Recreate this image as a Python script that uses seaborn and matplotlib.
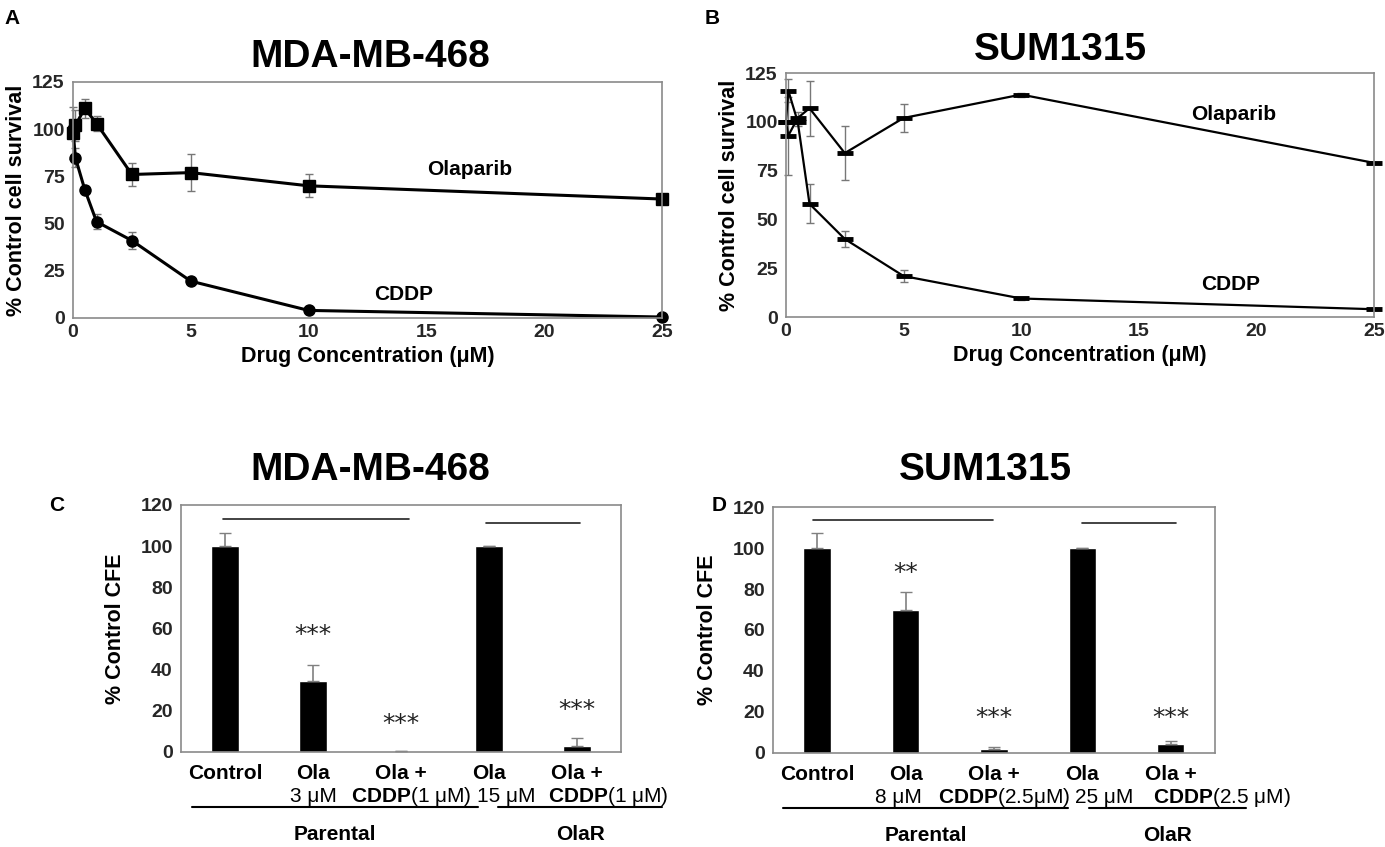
import numpy as np
import pandas as pd
import seaborn as sns
import matplotlib.pyplot as plt

# ---- data ----
conc = [0, 0.1, 0.5, 1, 2.5, 5, 10, 25]

mda_ola = [98, 102, 111, 103, 76, 77, 70, 63]
mda_ola_err = [14, 8, 5, 4, 6, 10, 6, 0]
mda_cddp = [100, 85, 68, 51, 41, 19.5, 4, 0.5]
mda_cddp_err = [0, 5, 2, 4, 4.5, 1.5, 1, 0]

sum_ola = [100, 93, 102, 107, 84, 102, 114, 79]
sum_ola_err = [0, 20, 3, 14, 14, 7, 1, 0]
sum_cddp = [100, 116, 100, 58, 40, 21, 9.5, 4]
sum_cddp_err = [0, 6, 2, 10, 4, 3, 1, 0]

groups = ["ctrl", "ola", "combo", "olaR", "comboR"]
label_top = ["Control", "Ola", "Ola +", "Ola", "Ola +"]
mda_label_bot = ["", "3 μM", r"$\mathbf{CDDP}$(1 μM)", "15 μM", r"$\mathbf{CDDP}$(1 μM)"]
sum_label_bot = ["", "8 μM", r"$\mathbf{CDDP}$(2.5μM)", "25 μM", r"$\mathbf{CDDP}$(2.5 μM)"]

mda_cfe = [100, 34.5, 0.5, 100, 3]
mda_cfe_err = [6.5, 7.7, 0, 0, 3.9]
mda_stars = ["", "***", "***", "", "***"]
mda_star_y = [0, 56.8, 13.8, 0, 20.3]

sum_cfe = [100, 70, 1.7, 100, 4.3]
sum_cfe_err = [7.5, 8.4, 1, 0, 1.7]
sum_stars = ["", "**", "***", "", "***"]
sum_star_y = [0, 87.6, 17, 0, 17]

# significance bars: (x start, x end, y)
mda_sig = [(-0.02, 2.09, 113), (2.97, 4.03, 111.4)]
sum_sig = [(-0.05, 1.99, 113.8), (3.0, 4.06, 112.2)]

# ---- style ----
sns.set_theme(style="white")
plt.rcParams["font.family"] = ["Liberation Sans", "DejaVu Sans"]
plt.rcParams["font.weight"] = "bold"
plt.rcParams["axes.labelweight"] = "bold"
plt.rcParams["text.color"] = "black"
plt.rcParams["axes.labelcolor"] = "black"
plt.rcParams["mathtext.fontset"] = "custom"
plt.rcParams["mathtext.bf"] = "Liberation Sans:bold"
plt.rcParams["mathtext.rm"] = "Liberation Sans"

SPINE = "#8a8a8a"

fig = plt.figure(figsize=(13.85, 8.47), dpi=100)
axA = fig.add_axes([0.0527, 0.6246, 0.4253, 0.2786])
axB = fig.add_axes([0.5675, 0.6257, 0.4245, 0.2880])
axC = fig.add_axes([0.1307, 0.1122, 0.3177, 0.2916])
axD = fig.add_axes([0.5581, 0.1110, 0.3191, 0.2904])


def style_spines(ax):
    for sp in ax.spines.values():
        sp.set_color(SPINE)
        sp.set_linewidth(1.2)


def curve_panel(ax, ola, ola_err, cddp, cddp_err, markers, ms, mew, lw, ola_xy, cddp_xy):
    df = pd.DataFrame({
        "conc": conc * 2,
        "survival": ola + cddp,
        "drug": ["Olaparib"] * len(conc) + ["CDDP"] * len(conc),
    })
    ax.errorbar(conc, ola, yerr=ola_err, fmt="none", ecolor="#777777",
                elinewidth=1, capsize=3, clip_on=False)
    ax.errorbar(conc, cddp, yerr=cddp_err, fmt="none", ecolor="#777777",
                elinewidth=1, capsize=3, clip_on=False)
    sns.lineplot(data=df, x="conc", y="survival", style="drug", markers=markers,
                 dashes=False, color="black", linewidth=lw, markersize=ms,
                 markeredgewidth=mew, markeredgecolor="black", legend=False,
                 errorbar=None, clip_on=False, ax=ax)
    ax.set_xlim(0, 25)
    ax.set_ylim(0, 125)
    ax.set_xticks([0, 5, 10, 15, 20, 25])
    ax.set_yticks([0, 25, 50, 75, 100, 125])
    ax.tick_params(axis="x", direction="in", length=4, color=SPINE, labelsize=14, pad=4)
    ax.tick_params(axis="y", direction="out", length=4, color=SPINE, labelsize=14, pad=2)
    ax.set_xlabel("Drug Concentration (μM)", fontsize=15.5, labelpad=4)
    ax.set_ylabel("% Control cell survival", fontsize=15.5, labelpad=4)
    ax.text(*ola_xy, "Olaparib", fontsize=15, ha="center", va="center")
    ax.text(*cddp_xy, "CDDP", fontsize=15, ha="center", va="center")
    style_spines(ax)


curve_panel(axA, mda_ola, mda_ola_err, mda_cddp, mda_cddp_err,
            {"Olaparib": "s", "CDDP": "o"}, 8, 1, 2.2, (16.85, 78.4), (14.05, 12.2))
curve_panel(axB, sum_ola, sum_ola_err, sum_cddp, sum_cddp_err,
            {"Olaparib": "_", "CDDP": "_"}, 12, 3.5, 1.6, (19.05, 103.6), (18.9, 16.8))


def bar_panel(ax, vals, errs, bot_labels, bot_shift, stars, star_y, sig, group_lines):
    sns.barplot(x=groups, y=vals, order=groups, color="black", saturation=1,
                width=0.31, ax=ax)
    ax.errorbar(range(len(vals)), vals, yerr=[np.zeros(len(vals)), errs],
                fmt="none", ecolor="#808080", elinewidth=1.2, capsize=4)
    for i, (s, y) in enumerate(zip(stars, star_y)):
        if s:
            ax.text(i, y, s, fontsize=18, fontweight="normal", ha="center",
                    va="center", family="DejaVu Sans", color="#222222")
    for x0, x1, y in sig:
        ax.plot([x0, x1], [y, y], color="#222222", lw=1.2)
    ax.set_xlim(-0.5, 4.5)
    ax.set_ylim(0, 120)
    ax.set_yticks(range(0, 121, 20))
    ax.set_xticks(range(5))
    ax.set_xticklabels([""] * 5)
    ax.set_xticks(np.arange(0.5, 4.5, 1), minor=True)
    ax.tick_params(axis="x", which="major", length=0)
    ax.tick_params(axis="x", which="minor", direction="in", length=4, color="#cccccc")
    ax.tick_params(axis="y", direction="out", length=4, color=SPINE, labelsize=14, pad=2)
    ax.set_xlabel("")
    ax.set_ylabel("% Control CFE", fontsize=15.5, labelpad=10)
    tr = ax.get_xaxis_transform()
    for i, (t, b, dx) in enumerate(zip(label_top, bot_labels, bot_shift)):
        ax.text(i, -0.087, t, transform=tr, fontsize=15, ha="center", va="center")
        if b:
            ax.text(i + dx, -0.180, b, transform=tr, fontsize=15, fontweight="normal",
                    ha="center", va="center")
    for (x0, x1), name in zip(group_lines, ["Parental", "OlaR"]):
        ax.plot([x0, x1], [-0.222, -0.222], transform=tr, color="black",
                lw=1.5, clip_on=False)
        ax.text((x0 + x1) / 2, -0.335, name, transform=tr, fontsize=15,
                ha="center", va="center")
    style_spines(ax)


bar_panel(axC, mda_cfe, mda_cfe_err, mda_label_bot, [0, 0, 0.12, 0.2, 0.36],
          mda_stars, mda_star_y, mda_sig, [(-0.38, 2.875), (3.1, 4.97)])
bar_panel(axD, sum_cfe, sum_cfe_err, sum_label_bot, [0, -0.08, 0.12, 0.25, 0.58],
          sum_stars, sum_star_y, sum_sig, [(-0.39, 2.84), (3.08, 4.85)])

# titles and panel letters
fig.text(370 / 1385, 1 - 57 / 847, "MDA-MB-468", fontsize=28, ha="center", va="center")
fig.text(1060 / 1385, 1 - 50 / 847, "SUM1315", fontsize=28, ha="center", va="center")
fig.text(370 / 1385, 1 - 470 / 847, "MDA-MB-468", fontsize=28, ha="center", va="center")
fig.text(985 / 1385, 1 - 470 / 847, "SUM1315", fontsize=28, ha="center", va="center")
fig.text(12 / 1385, 1 - 18 / 847, "A", fontsize=15, ha="center", va="center")
fig.text(712 / 1385, 1 - 18 / 847, "B", fontsize=15, ha="center", va="center")
fig.text(57 / 1385, 1 - 505 / 847, "C", fontsize=15, ha="center", va="center")
fig.text(719 / 1385, 1 - 505 / 847, "D", fontsize=15, ha="center", va="center")

fig.savefig("out.png", dpi=100, facecolor="white")
